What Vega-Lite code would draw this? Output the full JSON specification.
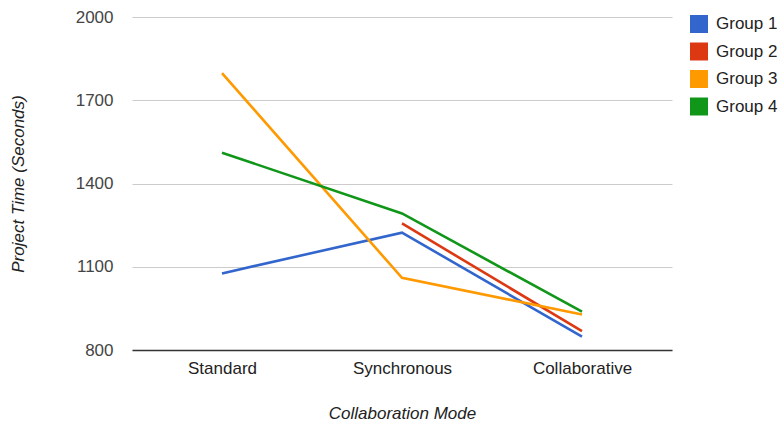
{
  "$schema": "https://vega.github.io/schema/vega-lite/v6.json",
  "width": 540,
  "height": 333,
  "autosize": {"type": "none"},
  "padding": {"left": 132, "top": 17, "right": 108, "bottom": 77},
  "background": "white",
  "config": {
    "view": {"stroke": null},
    "font": "Liberation Sans"
  },
  "data": {
    "values": [
      {"mode": "Standard", "group": "Group 1", "time": 1076},
      {"mode": "Synchronous", "group": "Group 1", "time": 1223},
      {"mode": "Collaborative", "group": "Group 1", "time": 848},
      {"mode": "Synchronous", "group": "Group 2", "time": 1256},
      {"mode": "Collaborative", "group": "Group 2", "time": 868},
      {"mode": "Standard", "group": "Group 3", "time": 1798},
      {"mode": "Synchronous", "group": "Group 3", "time": 1060},
      {"mode": "Collaborative", "group": "Group 3", "time": 928},
      {"mode": "Standard", "group": "Group 4", "time": 1511},
      {"mode": "Synchronous", "group": "Group 4", "time": 1292},
      {"mode": "Collaborative", "group": "Group 4", "time": 938}
    ]
  },
  "mark": {"type": "line", "strokeWidth": 2.6},
  "encoding": {
    "x": {
      "field": "mode",
      "type": "ordinal",
      "sort": ["Standard", "Synchronous", "Collaborative"],
      "scale": {"type": "point", "padding": 0.5},
      "axis": {
        "title": "Collaboration Mode",
        "titleFont": "Liberation Sans",
        "titleFontStyle": "italic",
        "titleFontWeight": "normal",
        "titleFontSize": 17,
        "titleColor": "#222222",
        "titlePadding": 29,
        "labelFontSize": 17,
        "labelColor": "#222222",
        "labelAngle": 0,
        "labelPadding": 10,
        "ticks": false,
        "domainColor": "#333333",
        "domainWidth": 1.5,
        "grid": false
      }
    },
    "y": {
      "field": "time",
      "type": "quantitative",
      "scale": {"domain": [800, 2000], "nice": false, "zero": false},
      "axis": {
        "title": "Project Time (Seconds)",
        "titleFont": "Liberation Sans",
        "titleFontStyle": "italic",
        "titleFontWeight": "normal",
        "titleFontSize": 17,
        "titleColor": "#222222",
        "titlePadding": 48,
        "values": [800, 1100, 1400, 1700, 2000],
        "format": "d",
        "labelFontSize": 17,
        "labelColor": "#444444",
        "labelPadding": 19,
        "ticks": false,
        "domain": false,
        "grid": true,
        "gridColor": "#cccccc",
        "gridWidth": 1
      }
    },
    "color": {
      "field": "group",
      "type": "nominal",
      "scale": {
        "domain": ["Group 1", "Group 2", "Group 3", "Group 4"],
        "range": ["#3366cc", "#dc3912", "#ff9900", "#109618"]
      },
      "legend": {
        "title": null,
        "orient": "none",
        "legendX": 558,
        "legendY": -2,
        "symbolType": "square",
        "symbolSize": 324,
        "symbolStrokeWidth": 0,
        "symbolOpacity": 1,
        "labelFontSize": 17,
        "labelColor": "#222222",
        "labelOffset": 8,
        "rowPadding": 9.5,
        "encode": {
          "symbols": {
            "update": {
              "fill": {"scale": "color", "field": "value"},
              "fillOpacity": {"value": 1},
              "strokeWidth": {"value": 0}
            }
          }
        }
      }
    }
  }
}
